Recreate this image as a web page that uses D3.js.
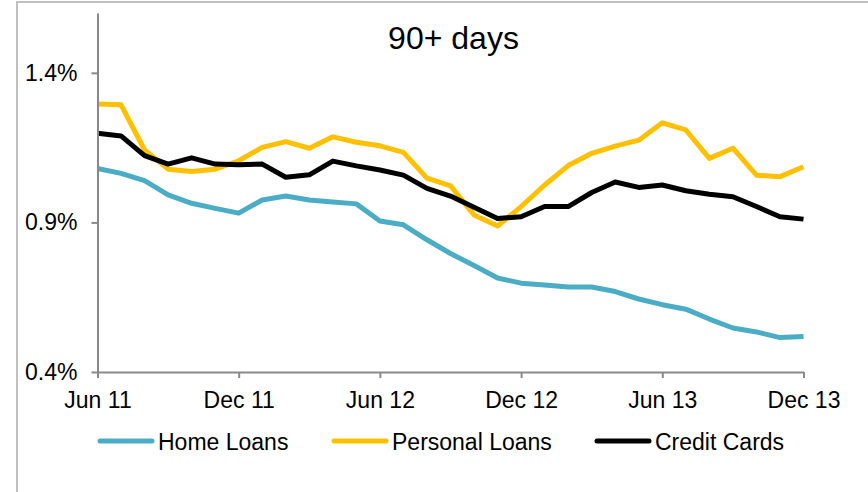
<!DOCTYPE html>
<html>
<head>
<meta charset="utf-8">
<script src="https://cdn.jsdelivr.net/npm/d3@7"></script>
<style>
  body { margin: 0; background: #fff; }
  text { font-family: "Liberation Sans", Arial, sans-serif; fill: #000; }
</style>
</head>
<body>
<script>
var width = 868,
    height = 492;

var months = ["Jun 11", "Jul 11", "Aug 11", "Sep 11", "Oct 11", "Nov 11", "Dec 11",
    "Jan 12", "Feb 12", "Mar 12", "Apr 12", "May 12", "Jun 12", "Jul 12", "Aug 12",
    "Sep 12", "Oct 12", "Nov 12", "Dec 12", "Jan 13", "Feb 13", "Mar 13", "Apr 13",
    "May 13", "Jun 13", "Jul 13", "Aug 13", "Sep 13", "Oct 13", "Nov 13", "Dec 13"];
var xTicks = ["Jun 11", "Dec 11", "Jun 12", "Dec 12", "Jun 13", "Dec 13"];
var yTicks = [0.4, 0.9, 1.4];

// % of loans 90+ days in arrears
var homeLoans = [1.080, 1.064, 1.040, 0.992, 0.964, 0.947, 0.931, 0.975, 0.988, 0.975,
    0.968, 0.962, 0.905, 0.892, 0.842, 0.796, 0.756, 0.714, 0.697, 0.691, 0.684, 0.684,
    0.669, 0.644, 0.625, 0.610, 0.577, 0.547, 0.534, 0.515, 0.519];
var personalLoans = [1.296, 1.293, 1.142, 1.078, 1.070, 1.078, 1.106, 1.151, 1.170, 1.148,
    1.186, 1.168, 1.156, 1.134, 1.048, 1.022, 0.925, 0.888, 0.953, 1.025, 1.090, 1.131,
    1.155, 1.175, 1.233, 1.209, 1.114, 1.148, 1.058, 1.053, 1.086];
var creditCards = [1.198, 1.189, 1.123, 1.095, 1.116, 1.095, 1.093, 1.095, 1.051, 1.059,
    1.105, 1.089, 1.075, 1.058, 1.014, 0.988, 0.951, 0.913, 0.919, 0.953, 0.953, 1.000,
    1.035, 1.017, 1.025, 1.006, 0.994, 0.986, 0.953, 0.919, 0.911];

var seriesNames = ["Home Loans", "Personal Loans", "Credit Cards"];
var seriesColors = ["#4BACC6", "#FFC000", "#000000"];
var series = [homeLoans, personalLoans, creditCards];

var svg = d3.select("body").append("svg")
    .attr("width", width)
    .attr("height", height);

// outer frame (only top & left visible)
svg.append("path")
    .attr("d", "M17," + height + "V2H" + width)
    .attr("fill", "none")
    .attr("stroke", "#c0c0c0")
    .attr("stroke-width", 2);

var x = d3.scalePoint()
    .domain(months)
    .range([97.5, 803.5]);
var y = d3.scaleLinear()
    .domain([0.4, 1.6])
    .range([372, 13]);

var xAxis = d3.axisBottom(x)
    .tickValues(xTicks)
    .tickSize(6)
    .tickSizeOuter(0)
    .tickPadding(14);
var yAxis = d3.axisLeft(y)
    .tickValues(yTicks)
    .tickSize(6)
    .tickSizeOuter(0)
    .tickPadding(14)
    .tickFormat(function (d) { return d.toFixed(1) + "%"; });

var line = d3.line()
    .x(function (d, i) { return x(months[i]); })
    .y(function (d) { return y(d); });

series.forEach(function (data, i) {
    svg.append("path")
        .attr("d", line(data))
        .attr("fill", "none")
        .attr("stroke", seriesColors[i])
        .attr("stroke-width", 5)
        .attr("stroke-linejoin", "round");
});

svg.append("g")
    .attr("transform", "translate(0,372)")
    .call(xAxis)
    .attr("class", "axis");
svg.append("g")
    .attr("transform", "translate(97.5,0)")
    .call(yAxis)
    .attr("class", "axis");

svg.selectAll(".axis path, .axis line")
    .attr("stroke", "#898989")
    .attr("stroke-width", 2);
svg.selectAll(".axis text")
    .attr("font-family", "Liberation Sans, Arial, sans-serif")
    .attr("font-size", 23)
    .attr("fill", "#000");

// title
svg.append("text")
    .attr("x", 453.5)
    .attr("y", 49)
    .attr("text-anchor", "middle")
    .attr("font-size", 32)
    .text("90+ days");

// legend
var legendX = [98, 332, 595];
var legend = svg.selectAll("g.legend")
    .data(seriesNames)
    .enter().append("g")
    .attr("class", "legend")
    .attr("transform", function (d, i) { return "translate(" + legendX[i] + ",441)"; });
legend.append("line")
    .attr("x1", 2).attr("x2", 54)
    .attr("y1", 0).attr("y2", 0)
    .attr("stroke", function (d, i) { return seriesColors[i]; })
    .attr("stroke-width", 5)
    .attr("stroke-linecap", "round");
legend.append("text")
    .attr("x", 60)
    .attr("y", 9)
    .attr("font-size", 23)
    .text(function (d) { return d; });
</script>
</body>
</html>
